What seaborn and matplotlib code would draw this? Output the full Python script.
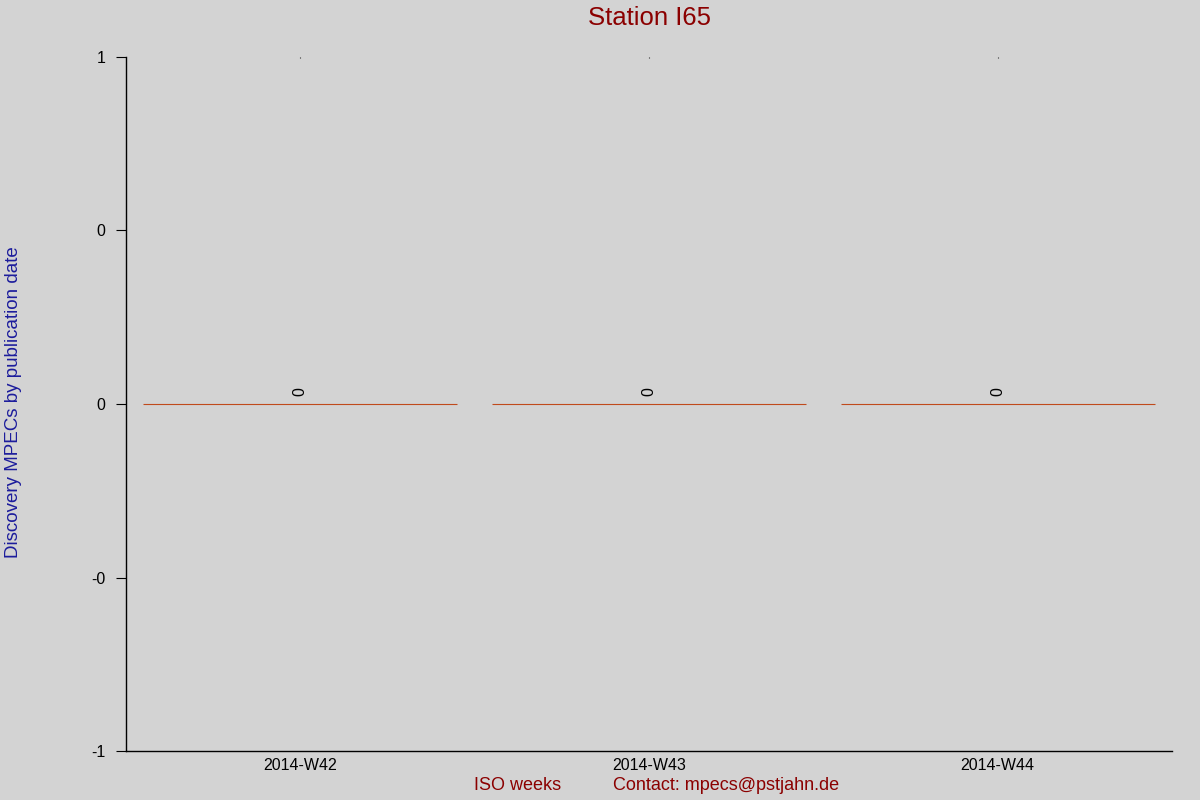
import numpy as np
import pandas as pd
import matplotlib
matplotlib.use("Agg")
import matplotlib.pyplot as plt
import seaborn as sns
from matplotlib.ticker import FormatStrFormatter

weeks = ["2014-W42", "2014-W43", "2014-W44"]
counts = [0, 0, 0]

df = pd.DataFrame({"week": weeks, "count": counts})

sns.set_theme(style="white")
plt.rcParams["font.family"] = ["Liberation Sans", "DejaVu Sans"]

bg = "#d3d3d3"
fig = plt.figure(figsize=(12, 8), dpi=100, facecolor=bg)
ax = fig.add_axes([0.105, 0.06125, 0.8717, 0.8675])
ax.set_facecolor(bg)

sns.barplot(data=df, x="week", y="count", ax=ax, width=0.9,
            color=bg, edgecolor="#c04a1c", linewidth=0.8)

# value labels above the bars
for i, v in enumerate(counts):
    ax.annotate(str(v), (i, v), xytext=(0, 6), textcoords="offset points",
                rotation=90, ha="center", va="bottom", fontsize=11.5, color="black")

ax.set_xlim(-0.5, 2.5)
ax.set_ylim(-1, 1)
ax.set_yticks([-1, -0.5, 0, 0.5, 1])
ax.yaxis.set_major_formatter(FormatStrFormatter("%.0f"))

for s in ["top", "right"]:
    ax.spines[s].set_visible(False)
for s in ["left", "bottom"]:
    ax.spines[s].set_color("black")
    ax.spines[s].set_linewidth(1)

ax.tick_params(axis="y", left=True, length=7, width=0.8, color="black",
               labelsize=11.5, labelcolor="black", pad=8)
ax.tick_params(axis="x", bottom=False, top=True, length=1, width=0.8, direction="in",
               labelsize=11.5, labelcolor="black", pad=5)

ax.set_xlabel("")
ax.set_ylabel("")
fig.text(0.004, 0.497, "Discovery MPECs by publication date", rotation=90,
         ha="left", va="center", fontsize=13.5, color="#1c1c9c")
fig.text(0.541, 0.977, "Station I65", ha="center", va="center",
         fontsize=18.5, color="#8b0000")
fig.text(0.395, 0.0175, "ISO weeks", ha="left", va="center",
         fontsize=13, color="#8b0000")
fig.text(0.511, 0.0175, "Contact: mpecs@pstjahn.de", ha="left", va="center",
         fontsize=13, color="#8b0000")

fig.savefig("out.png", dpi=100, facecolor=bg)
